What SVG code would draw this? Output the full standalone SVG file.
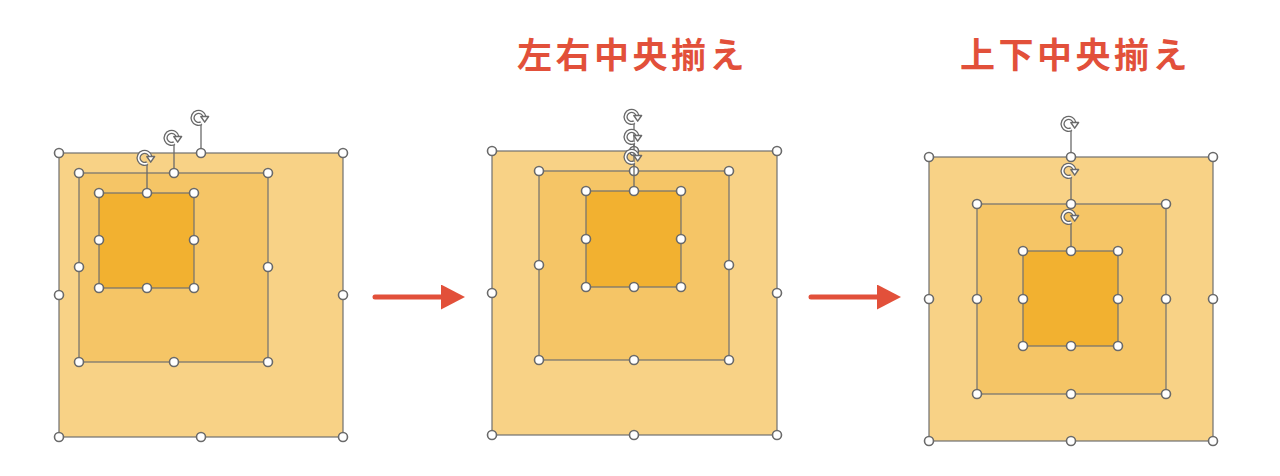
<svg xmlns="http://www.w3.org/2000/svg" xmlns:xlink="http://www.w3.org/1999/xlink" width="1280" height="476" viewBox="0 0 1280 476">
<defs>
<style>
.o{fill:#F8D286;stroke:#707070;stroke-width:1.2}
.m{fill:#F5C566;stroke:#707070;stroke-width:1.2}
.i{fill:#F2B130;stroke:#707070;stroke-width:1.2}
.h{fill:#fff;stroke:#6A6A6A;stroke-width:1.6}
.ln{stroke:#6A6A6A;stroke-width:1.3}
.t{font-family:"Noto Sans CJK JP","Noto Sans CJK SC",sans-serif;font-weight:bold;font-size:35px;fill:#E2503A;letter-spacing:3.5px}
.arr{stroke:#E2503A;stroke-width:5;stroke-linecap:round}
</style>
<g id="rot">
<path d="M1.4,5.2 A6,6 0 1 1 4.5,-1.2" fill="none" stroke="#6A6A6A" stroke-width="4.2"/>
<path d="M1.4,5.2 A6,6 0 1 1 4.5,-1.2" fill="none" stroke="#fff" stroke-width="1.6"/>
<path d="M0.8,-1.5 L8.6,-1.5 L4.7,4.2 Z" fill="#fff" stroke="#6A6A6A" stroke-width="1.4" stroke-linejoin="round"/>
</g>
<marker id="ah" viewBox="0 0 10 10" refX="0" refY="5" markerWidth="24" markerHeight="25" markerUnits="userSpaceOnUse" orient="auto" preserveAspectRatio="none">
<path d="M0,0 L10,5 L0,10 Z" fill="#E2503A"/>
</marker>
</defs>
<rect width="1280" height="476" fill="#fff"/>

<text class="t" x="517" y="68">左右中央揃え</text>
<text class="t" x="960" y="68">上下中央揃え</text>

<!-- Panel 1 -->
<g id="p1-outer">
<rect class="o" x="59" y="153" width="284" height="284"/>
<line class="ln" x1="201" y1="153" x2="201" y2="125"/>
<use xlink:href="#rot" x="200" y="118"/>
<circle class="h" cx="59" cy="153" r="4.5"/><circle class="h" cx="201" cy="153" r="4.5"/><circle class="h" cx="343" cy="153" r="4.5"/>
<circle class="h" cx="59" cy="295" r="4.5"/><circle class="h" cx="343" cy="295" r="4.5"/>
<circle class="h" cx="59" cy="437" r="4.5"/><circle class="h" cx="201" cy="437" r="4.5"/><circle class="h" cx="343" cy="437" r="4.5"/>
</g>
<g id="p1-middle">
<rect class="m" x="79" y="173" width="189" height="189"/>
<line class="ln" x1="174" y1="173" x2="174" y2="145"/>
<use xlink:href="#rot" x="173" y="138"/>
<circle class="h" cx="79" cy="173" r="4.5"/><circle class="h" cx="174" cy="173" r="4.5"/><circle class="h" cx="268" cy="173" r="4.5"/>
<circle class="h" cx="79" cy="267" r="4.5"/><circle class="h" cx="268" cy="267" r="4.5"/>
<circle class="h" cx="79" cy="362" r="4.5"/><circle class="h" cx="174" cy="362" r="4.5"/><circle class="h" cx="268" cy="362" r="4.5"/>
</g>
<g id="p1-inner">
<rect class="i" x="99" y="193" width="95" height="95"/>
<line class="ln" x1="147" y1="193" x2="147" y2="165"/>
<use xlink:href="#rot" x="146" y="158"/>
<circle class="h" cx="99" cy="193" r="4.5"/><circle class="h" cx="147" cy="193" r="4.5"/><circle class="h" cx="194" cy="193" r="4.5"/>
<circle class="h" cx="99" cy="240" r="4.5"/><circle class="h" cx="194" cy="240" r="4.5"/>
<circle class="h" cx="99" cy="288" r="4.5"/><circle class="h" cx="147" cy="288" r="4.5"/><circle class="h" cx="194" cy="288" r="4.5"/>
</g>

<!-- Panel 2 -->
<g id="p2-outer">
<rect class="o" x="492" y="151" width="285" height="284"/>
<line class="ln" x1="634" y1="151" x2="634" y2="124"/>
<use xlink:href="#rot" x="633" y="117"/>
<circle class="h" cx="492" cy="151" r="4.5"/><circle class="h" cx="634" cy="151" r="4.5"/><circle class="h" cx="777" cy="151" r="4.5"/>
<circle class="h" cx="492" cy="293" r="4.5"/><circle class="h" cx="777" cy="293" r="4.5"/>
<circle class="h" cx="492" cy="435" r="4.5"/><circle class="h" cx="634" cy="435" r="4.5"/><circle class="h" cx="777" cy="435" r="4.5"/>
</g>
<g id="p2-middle">
<rect class="m" x="539" y="171" width="190" height="189"/>
<line class="ln" x1="634" y1="171" x2="634" y2="144"/>
<use xlink:href="#rot" x="633" y="137"/>
<circle class="h" cx="539" cy="171" r="4.5"/><circle class="h" cx="634" cy="171" r="4.5"/><circle class="h" cx="729" cy="171" r="4.5"/>
<circle class="h" cx="539" cy="265" r="4.5"/><circle class="h" cx="729" cy="265" r="4.5"/>
<circle class="h" cx="539" cy="360" r="4.5"/><circle class="h" cx="634" cy="360" r="4.5"/><circle class="h" cx="729" cy="360" r="4.5"/>
</g>
<g id="p2-inner">
<rect class="i" x="586" y="191" width="95" height="96"/>
<line class="ln" x1="634" y1="191" x2="634" y2="164"/>
<use xlink:href="#rot" x="633" y="157"/>
<circle class="h" cx="586" cy="191" r="4.5"/><circle class="h" cx="634" cy="191" r="4.5"/><circle class="h" cx="681" cy="191" r="4.5"/>
<circle class="h" cx="586" cy="239" r="4.5"/><circle class="h" cx="681" cy="239" r="4.5"/>
<circle class="h" cx="586" cy="287" r="4.5"/><circle class="h" cx="634" cy="287" r="4.5"/><circle class="h" cx="681" cy="287" r="4.5"/>
</g>

<!-- Panel 3 -->
<g id="p3-outer">
<rect class="o" x="929" y="157" width="284" height="284"/>
<line class="ln" x1="1071" y1="157" x2="1071" y2="131"/>
<use xlink:href="#rot" x="1070" y="124"/>
<circle class="h" cx="929" cy="157" r="4.5"/><circle class="h" cx="1071" cy="157" r="4.5"/><circle class="h" cx="1213" cy="157" r="4.5"/>
<circle class="h" cx="929" cy="299" r="4.5"/><circle class="h" cx="1213" cy="299" r="4.5"/>
<circle class="h" cx="929" cy="441" r="4.5"/><circle class="h" cx="1071" cy="441" r="4.5"/><circle class="h" cx="1213" cy="441" r="4.5"/>
</g>
<g id="p3-middle">
<rect class="m" x="977" y="204" width="189" height="190"/>
<line class="ln" x1="1071" y1="204" x2="1071" y2="178"/>
<use xlink:href="#rot" x="1070" y="171"/>
<circle class="h" cx="977" cy="204" r="4.5"/><circle class="h" cx="1071" cy="204" r="4.5"/><circle class="h" cx="1166" cy="204" r="4.5"/>
<circle class="h" cx="977" cy="299" r="4.5"/><circle class="h" cx="1166" cy="299" r="4.5"/>
<circle class="h" cx="977" cy="394" r="4.5"/><circle class="h" cx="1071" cy="394" r="4.5"/><circle class="h" cx="1166" cy="394" r="4.5"/>
</g>
<g id="p3-inner">
<rect class="i" x="1023" y="251" width="95" height="95"/>
<line class="ln" x1="1071" y1="251" x2="1071" y2="224"/>
<use xlink:href="#rot" x="1070" y="217"/>
<circle class="h" cx="1023" cy="251" r="4.5"/><circle class="h" cx="1071" cy="251" r="4.5"/><circle class="h" cx="1118" cy="251" r="4.5"/>
<circle class="h" cx="1023" cy="299" r="4.5"/><circle class="h" cx="1118" cy="299" r="4.5"/>
<circle class="h" cx="1023" cy="346" r="4.5"/><circle class="h" cx="1071" cy="346" r="4.5"/><circle class="h" cx="1118" cy="346" r="4.5"/>
</g>

<g id="connectors">
<line class="arr" x1="375" y1="297" x2="441" y2="297" marker-end="url(#ah)"/>
<line class="arr" x1="811" y1="297" x2="877" y2="297" marker-end="url(#ah)"/>
</g>
</svg>
